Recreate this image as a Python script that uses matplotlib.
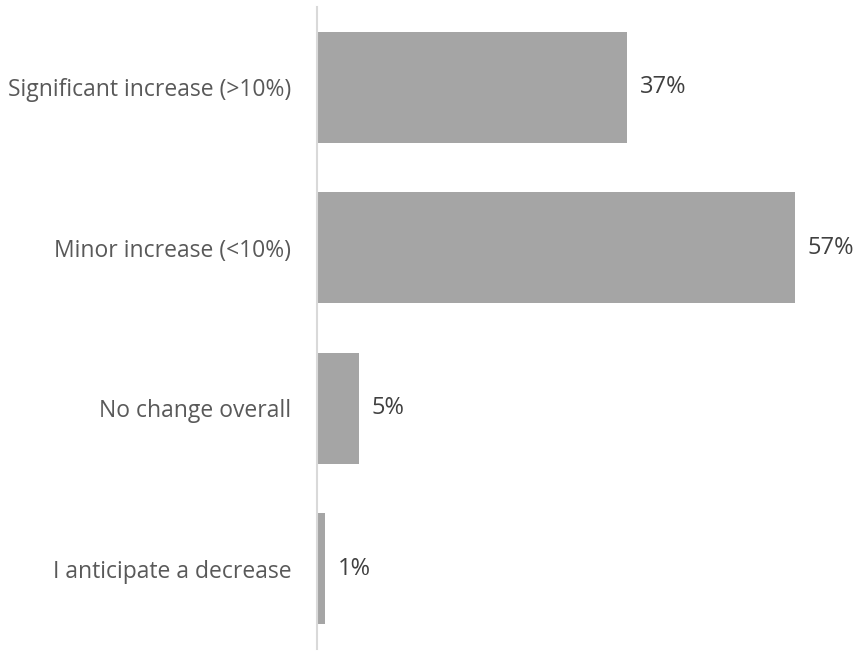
import matplotlib.pyplot as plt

# Survey categories, top to bottom
categories = [
    "Significant increase (>10%)",
    "Minor increase (<10%)",
    "No change overall",
    "I anticipate a decrease",
]
values = [37, 57, 5, 1]
value_labels = ["37%", "57%", "5%", "1%"]

plt.rcParams['font.family'] = ['Open Sans', 'DejaVu Sans']

fig = plt.figure(figsize=(8.68, 6.59), dpi=100)
ax = fig.add_axes([317 / 868, 10 / 659, 545 / 868, 642 / 659])

y = range(len(categories))
ax.barh(y, values, height=0.69, color="#a5a5a5")

for yi, v, lab in zip(y, values, value_labels):
    ax.text(v + 1.5, yi, lab, va="center", ha="left", fontsize=17, color="#404040")

ax.set_ylim(len(categories) - 0.5, -0.5)
ax.set_xlim(0, 65)
ax.set_yticks(list(y))
ax.set_yticklabels(categories, fontsize=16.5, color="#595959")
ax.tick_params(axis="y", length=0, pad=18.5)
ax.set_xticks([])

for side in ["top", "right", "bottom"]:
    ax.spines[side].set_visible(False)
ax.spines["left"].set_color("#d9d9d9")
ax.spines["left"].set_linewidth(1.5)

plt.savefig("out.png", dpi=100)
plt.close()
